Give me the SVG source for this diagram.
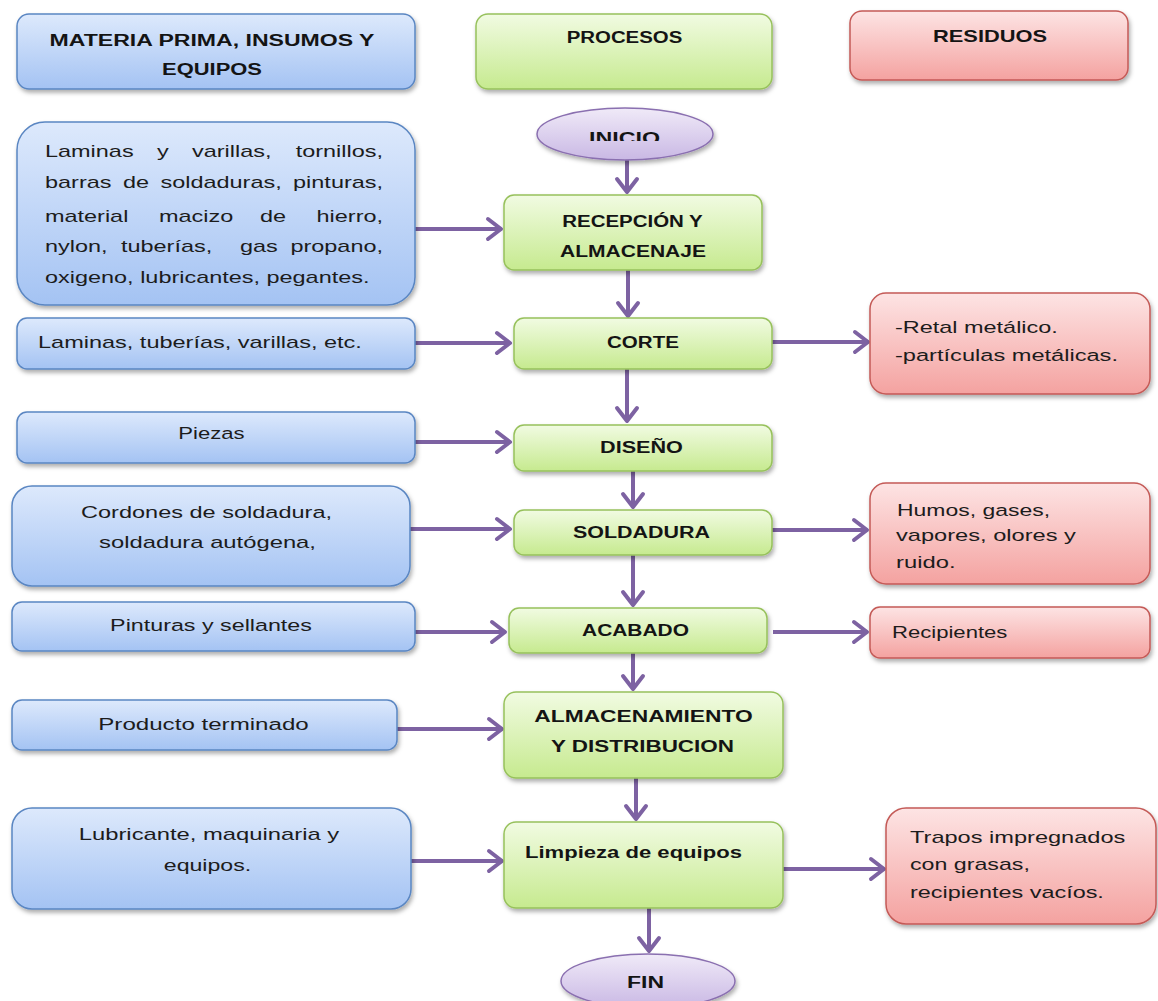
<svg xmlns="http://www.w3.org/2000/svg" width="1158" height="1001" viewBox="0 0 1158 1001">
<defs>
<linearGradient id="gBlue" x1="0" y1="0" x2="0" y2="1"><stop offset="0" stop-color="#dde9fc"/><stop offset="1" stop-color="#a4c3f3"/></linearGradient>
<linearGradient id="gGreen" x1="0" y1="0" x2="0" y2="1"><stop offset="0" stop-color="#f1fbe2"/><stop offset="1" stop-color="#c6ea8f"/></linearGradient>
<linearGradient id="gRed" x1="0" y1="0" x2="0" y2="1"><stop offset="0" stop-color="#fde4e4"/><stop offset="1" stop-color="#f4a2a0"/></linearGradient>
<linearGradient id="gPurple" x1="0" y1="0" x2="0" y2="1"><stop offset="0" stop-color="#f0eaf8"/><stop offset="1" stop-color="#c9b8e4"/></linearGradient>
<filter id="sh" x="-10%" y="-20%" width="130%" height="160%"><feDropShadow dx="1.5" dy="3" stdDeviation="2" flood-color="#000" flood-opacity="0.32"/></filter>
<marker id="ah" markerUnits="userSpaceOnUse" markerWidth="26" markerHeight="26" viewBox="0 0 26 26" refX="21" refY="13" orient="auto">
<path d="M8,3 L21,13 L8,23" fill="none" stroke="#7d62a2" stroke-width="4" stroke-linecap="round" stroke-linejoin="round"/>
</marker>
<clipPath id="clipInicio"><rect x="540" y="100" width="170" height="41"/></clipPath>
</defs>
<style>
.blue{fill:url(#gBlue);stroke:#5a86c2;stroke-width:1.5;filter:url(#sh)}
.green{fill:url(#gGreen);stroke:#97c15c;stroke-width:1.5;filter:url(#sh)}
.red{fill:url(#gRed);stroke:#c45a57;stroke-width:1.5;filter:url(#sh)}
.purple{fill:url(#gPurple);stroke:#8a6fb0;stroke-width:1.5;filter:url(#sh)}
text{font-family:"Liberation Sans",Arial,sans-serif;font-size:17px;fill:#1c1c1c}
.b{font-weight:bold;fill:#141414}
.m{text-anchor:middle}
.e{text-anchor:end}
.conn line{stroke:#7d62a2;stroke-width:4;marker-end:url(#ah)}
</style>

<g id="connectors" class="conn">
<line x1="627" y1="160" x2="627" y2="192"/>
<line x1="415" y1="229" x2="501" y2="229"/>
<line x1="628" y1="270" x2="628" y2="316"/>
<line x1="415" y1="343" x2="510" y2="343"/>
<line x1="772" y1="342" x2="868" y2="342"/>
<line x1="627" y1="369" x2="627" y2="421"/>
<line x1="415" y1="442" x2="510" y2="442"/>
<line x1="633" y1="471" x2="633" y2="507"/>
<line x1="410" y1="529" x2="510" y2="529"/>
<line x1="772" y1="530" x2="867" y2="530"/>
<line x1="633" y1="555" x2="633" y2="605"/>
<line x1="415" y1="632" x2="505" y2="632"/>
<line x1="773" y1="632" x2="867" y2="632"/>
<line x1="633" y1="653" x2="633" y2="689"/>
<line x1="397" y1="729" x2="502" y2="729"/>
<line x1="636" y1="778" x2="636" y2="819"/>
<line x1="409" y1="861" x2="502" y2="861"/>
<line x1="783" y1="869" x2="884" y2="869"/>
<line x1="649" y1="908" x2="649" y2="951"/>
</g>

<g id="h_materia">
<rect class="blue" x="17" y="14" width="398" height="75" rx="12"/>
<text class="b m" transform="matrix(1.357 0 0 1 212 46)">MATERIA PRIMA, INSUMOS Y</text>
<text class="b m" transform="matrix(1.29 0 0 1 212 75)">EQUIPOS</text>
</g>
<g id="h_procesos">
<rect class="green" x="476" y="14" width="296" height="75" rx="12"/>
<text class="b m" transform="matrix(1.2 0 0 1 624.5 43)">PROCESOS</text>
</g>
<g id="h_residuos">
<rect class="red" x="850" y="11" width="278" height="69" rx="12"/>
<text class="b m" transform="matrix(1.284 0 0 1 990 42)">RESIDUOS</text>
</g>

<g id="inicio">
<ellipse class="purple" cx="625" cy="134" rx="88" ry="26"/>
<g clip-path="url(#clipInicio)"><text class="b m" transform="matrix(1.366 0 0 1 624.5 144)">INICIO</text></g>
</g>

<g id="recepcion">
<rect class="green" x="504" y="195" width="258" height="75" rx="10"/>
<text class="b m" transform="matrix(1.204 0 0 1 632.5 227)">RECEPCIÓN Y</text>
<text class="b m" transform="matrix(1.237 0 0 1 633 257)">ALMACENAJE</text>
</g>

<g id="in_materiales">
<rect class="blue" x="17" y="122" width="398" height="183" rx="28"/>
<text transform="matrix(1.38 0 0 1 45 157)">Laminas</text>
<text transform="matrix(1.38 0 0 1 157 157)">y</text>
<text transform="matrix(1.38 0 0 1 192 157)">varillas,</text>
<text class="e" transform="matrix(1.38 0 0 1 383 157)">tornillos,</text>
<text transform="matrix(1.38 0 0 1 45 188)">barras</text>
<text transform="matrix(1.38 0 0 1 123 188)">de</text>
<text transform="matrix(1.38 0 0 1 160.5 188)">soldaduras,</text>
<text class="e" transform="matrix(1.38 0 0 1 383 188)">pinturas,</text>
<text transform="matrix(1.38 0 0 1 45 222)">material</text>
<text transform="matrix(1.38 0 0 1 159 222)">macizo</text>
<text transform="matrix(1.38 0 0 1 260 222)">de</text>
<text class="e" transform="matrix(1.38 0 0 1 383 222)">hierro,</text>
<text transform="matrix(1.38 0 0 1 45 252)">nylon,</text>
<text transform="matrix(1.38 0 0 1 121 252)">tuberías,</text>
<text transform="matrix(1.38 0 0 1 240 252)">gas</text>
<text class="e" transform="matrix(1.38 0 0 1 383 252)">propano,</text>
<text transform="matrix(1.38 0 0 1 45 283)">oxigeno, lubricantes, pegantes.</text>
</g>

<g id="in_laminas">
<rect class="blue" x="17" y="318" width="398" height="51" rx="10"/>
<text transform="matrix(1.383 0 0 1 38 348)">Laminas, tuberías, varillas, etc.</text>
</g>
<g id="corte">
<rect class="green" x="514" y="318" width="258" height="51" rx="10"/>
<text class="b m" transform="matrix(1.21 0 0 1 643 348)">CORTE</text>
</g>
<g id="res_retal">
<rect class="red" x="870" y="293" width="280" height="101" rx="16"/>
<text transform="matrix(1.38 0 0 1 895 333)">-Retal metálico.</text>
<text transform="matrix(1.389 0 0 1 895 361)">-partículas metálicas.</text>
</g>

<g id="in_piezas">
<rect class="blue" x="17" y="412" width="398" height="51" rx="10"/>
<text class="m" transform="matrix(1.3 0 0 1 211.5 439)">Piezas</text>
</g>
<g id="diseno">
<rect class="green" x="514" y="425" width="258" height="46" rx="10"/>
<text class="b m" transform="matrix(1.273 0 0 1 641.5 453)">DISEÑO</text>
</g>

<g id="in_cordones">
<rect class="blue" x="12" y="486" width="398" height="100" rx="20"/>
<text class="m" transform="matrix(1.384 0 0 1 206.5 518)">Cordones de soldadura,</text>
<text class="m" transform="matrix(1.4 0 0 1 207.5 548)">soldadura autógena,</text>
</g>
<g id="soldadura">
<rect class="green" x="514" y="510" width="258" height="45" rx="10"/>
<text class="b m" transform="matrix(1.262 0 0 1 641.5 538)">SOLDADURA</text>
</g>
<g id="res_humos">
<rect class="red" x="870" y="483" width="280" height="101" rx="16"/>
<text transform="matrix(1.35 0 0 1 897 516)">Humos, gases,</text>
<text transform="matrix(1.39 0 0 1 896 541)">vapores, olores y</text>
<text transform="matrix(1.4 0 0 1 896 568)">ruido.</text>
</g>

<g id="in_pinturas">
<rect class="blue" x="12" y="602" width="403" height="49" rx="10"/>
<text class="m" transform="matrix(1.37 0 0 1 211 631)">Pinturas y sellantes</text>
</g>
<g id="acabado">
<rect class="green" x="509" y="608" width="258" height="45" rx="10"/>
<text class="b m" transform="matrix(1.231 0 0 1 635.5 636)">ACABADO</text>
</g>
<g id="res_recipientes">
<rect class="red" x="870" y="607" width="280" height="51" rx="10"/>
<text transform="matrix(1.3 0 0 1 892 638)">Recipientes</text>
</g>

<g id="in_producto">
<rect class="blue" x="12" y="700" width="385" height="50" rx="10"/>
<text class="m" transform="matrix(1.42 0 0 1 203.5 730)">Producto terminado</text>
</g>
<g id="almacenamiento">
<rect class="green" x="504" y="692" width="279" height="86" rx="12"/>
<text class="b m" transform="matrix(1.34 0 0 1 643.5 722)">ALMACENAMIENTO</text>
<text class="b m" transform="matrix(1.321 0 0 1 642.5 752)">Y DISTRIBUCION</text>
</g>

<g id="in_lubricante">
<rect class="blue" x="12" y="808" width="399" height="101" rx="20"/>
<text class="m" transform="matrix(1.4 0 0 1 209 840)">Lubricante, maquinaria y</text>
<text class="m" transform="matrix(1.36 0 0 1 207.5 871)">equipos.</text>
</g>
<g id="limpieza">
<rect class="green" x="504" y="822" width="279" height="86" rx="12"/>
<text class="b" transform="matrix(1.298 0 0 1 525 858)">Limpieza de equipos</text>
</g>
<g id="res_trapos">
<rect class="red" x="886" y="808" width="270" height="116" rx="20"/>
<text transform="matrix(1.388 0 0 1 910 843)">Trapos impregnados</text>
<text transform="matrix(1.365 0 0 1 910 870)">con grasas,</text>
<text transform="matrix(1.378 0 0 1 910 898)">recipientes vacíos.</text>
</g>

<g id="fin">
<ellipse class="purple" cx="648" cy="981" rx="87" ry="27"/>
<text class="b m" transform="matrix(1.35 0 0 1 645.5 988)">FIN</text>
</g>
</svg>
